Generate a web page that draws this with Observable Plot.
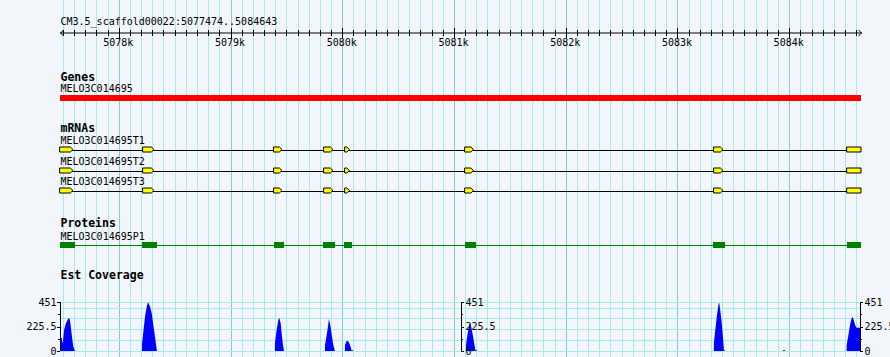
<!DOCTYPE html>
<html>
<head>
<meta charset="utf-8">
<script src="https://cdn.jsdelivr.net/npm/d3@7"></script>
<script src="https://cdn.jsdelivr.net/npm/@observablehq/plot@0.6"></script>
<style>
  html, body { margin: 0; padding: 0; background: #f2f5fa; }
  #chart { width: 890px; height: 357px; overflow: hidden; }
  #chart svg { display: block; }
</style>
</head>
<body>
<div id="chart"></div>
<script>
// ---------------- DATA ----------------
const refName = "CM3.5_scaffold00022";
const viewStart = 5077474;
const viewEnd = 5084643;

const majorTicks = [5078000, 5079000, 5080000, 5081000, 5082000, 5083000, 5084000];
const majorTickLabels = ["5078k", "5079k", "5080k", "5081k", "5082k", "5083k", "5084k"];

const trackTitles = ["Genes", "mRNAs", "Proteins", "Est Coverage"];

const geneNames = ["MELO3C014695"];
const geneStarts = [5077474];
const geneEnds = [5084643];

const transcriptNames = ["MELO3C014695T1", "MELO3C014695T2", "MELO3C014695T3"];
const exonStarts = [5077474, 5078217, 5079389, 5079837, 5080025, 5081099, 5083327, 5084518];
const exonEnds   = [5077590, 5078315, 5079461, 5079917, 5080065, 5081175, 5083408, 5084643];
const exonPointed = [true, true, true, true, true, true, true, false];

const proteinNames = ["MELO3C014695P1"];
const cdsStarts = [5077474, 5078208, 5079389, 5079828, 5080016, 5081099, 5083318, 5084518];
const cdsEnds   = [5077608, 5078342, 5079479, 5079935, 5080088, 5081197, 5083426, 5084643];

const coveragePos = [
  5077474, 5077490, 5077494, 5077502, 5077510, 5077528, 5077546, 5077555, 5077564, 5077572, 5077581, 5077593, 5077608,
  5078207, 5078208, 5078220, 5078235, 5078250, 5078262, 5078280, 5078295, 5078309, 5078324, 5078336, 5078342,
  5079397, 5079398, 5079413, 5079428, 5079436, 5079449, 5079461, 5079472, 5079479,
  5079845, 5079846, 5079861, 5079872, 5079881, 5079893, 5079906, 5079920, 5079935,
  5080024, 5080025, 5080040, 5080055, 5080070, 5080085,
  5081107, 5081108, 5081123, 5081135, 5081144, 5081155, 5081170, 5081184, 5081193,
  5083326, 5083327, 5083342, 5083356, 5083369, 5083374, 5083383, 5083396, 5083408, 5083417,
  5084514, 5084515, 5084529, 5084545, 5084560, 5084566, 5084578, 5084590, 5084602, 5084634
];
const coverageVal = [
  122, 122, 70, 101, 193, 258, 294, 306, 279, 212, 132, 40, 0,
  0, 60, 178, 316, 408, 451, 408, 347, 239, 132, 40, 0,
  0, 74, 193, 285, 306, 255, 132, 40, 0,
  0, 55, 147, 224, 294, 239, 147, 55, 0,
  0, 55, 95, 87, 55, 0,
  0, 55, 166, 230, 255, 221, 138, 55, 0,
  0, 74, 224, 347, 437, 445, 377, 267, 120, 0,
  0, 55, 138, 239, 304, 315, 285, 239, 214, 214
];
const coverageMax = 451;
const coverageTickVals = [0, 225.5, 451];
const coverageMinorTickVals = [112.75, 338.25];
const coverageGridVals = [0, 100, 200, 300, 400, 451];
const coverageAxisPos = [5077474, 5081063, 5084634];
const redMarkPos = [5080088, 5081195, 5083419, 5083957];

// ---------------- STYLE / LAYOUT ----------------
const BG = "#f2f5fa";
const GRID_MINOR = "#a6e9ef";
const GRID_MAJOR = "#8ac6ea";
const MONO = "DejaVu Sans Mono, monospace";
const L = {
  titleY: 24, axisY: 32.5, tickLabelY: 45,
  genesTitleY: 80.5, geneLabelY: 91.5, geneBarTop: 95, geneBarBottom: 101,
  mrnaTitleY: 131.5, txLabelY: [143.3, 164, 184.8], txRowY: [149.5, 170.5, 190.5], exonHalf: 2.5,
  protTitleY: 226.7, protLabelY: 239, protRowY: 244.5, cdsTop: 242, cdsBottom: 247.5,
  covTitleY: 278.3
};
const tipBp = 24;
const xRange = [60, 861];
const minorTicks = d3.range(5077500, viewEnd, 100);
const crisp = {shapeRendering: "crispEdges"};

// ---------------- DERIVED TABLES ----------------
const exonShapes = [];
transcriptNames.forEach((t, ti) => {
  exonStarts.forEach((s, i) => {
    const e = exonEnds[i];
    const yc = L.txRowY[ti], top = yc - L.exonHalf, bot = yc + L.exonHalf;
    const id = t + "_" + i;
    exonShapes.push({id, x: s, top, bot});
    if (exonPointed[i]) {
      exonShapes.push({id, x: e - tipBp, top, bot});
      exonShapes.push({id, x: e, top: yc, bot: yc});
    } else {
      exonShapes.push({id, x: e, top, bot});
    }
  });
});
const transcripts = transcriptNames.map((name, i) => ({
  name, start: exonStarts[0], end: exonEnds[exonEnds.length - 1], y: L.txRowY[i], ly: L.txLabelY[i]
}));
const cds = cdsStarts.map((s, i) => ({start: s, end: cdsEnds[i]}));
const coverage = coveragePos.map((p, i) => ({pos: p, val: coverageVal[i]}));

const gridMarks = () => [
  Plot.ruleX(minorTicks.filter(d => d % 1000 !== 0), {x: d => d, stroke: GRID_MINOR, strokeWidth: 1, ...crisp}),
  Plot.ruleX(majorTicks, {x: d => d, stroke: GRID_MAJOR, strokeWidth: 1, ...crisp})
];

const textOpts = {fontFamily: MONO, fontSize: 10, fill: "black", lineAnchor: "bottom"};
const titleOpts = {fontFamily: MONO, fontSize: 11.5, fontWeight: "bold", fill: "black", lineAnchor: "bottom", textAnchor: "start"};

// ---------------- MAIN PLOT ----------------
const mid = (viewStart + viewEnd) / 2;
const main = Plot.plot({
  width: 890, height: 290, margin: 0,
  style: {background: BG, fontFamily: MONO, fontSize: "10px"},
  x: {domain: [viewStart, viewEnd], range: xRange},
  y: {type: "identity"},
  marks: [
    ...gridMarks(),
    // ruler
    Plot.text([refName + ":" + viewStart + ".." + viewEnd], {x: viewStart, y: L.titleY, text: d => d, textAnchor: "start", ...textOpts}),
    Plot.arrow([{a: mid, b: viewStart}, {a: mid, b: viewEnd}], {x1: "a", x2: "b", y1: L.axisY, y2: L.axisY, stroke: "black", strokeWidth: 1, headAngle: 90, headLength: 6}),
    Plot.ruleX(minorTicks.filter(d => d % 1000 !== 0), {x: d => d, y1: 29.5, y2: 35.5, stroke: "black", strokeWidth: 1, ...crisp}),
    Plot.ruleX(majorTicks, {x: d => d, y1: 28, y2: 38, stroke: "black", strokeWidth: 1, ...crisp}),
    Plot.text(majorTicks, {x: d => d, y: L.tickLabelY, text: (d, i) => majorTickLabels[i], textAnchor: "middle", dx: -1, ...textOpts}),
    // Genes
    Plot.text([trackTitles[0]], {x: viewStart, y: L.genesTitleY, text: d => d, ...titleOpts}),
    Plot.text(geneNames, {x: (d, i) => geneStarts[i], y: L.geneLabelY, text: d => d, textAnchor: "start", ...textOpts}),
    Plot.rect(geneNames, {x1: (d, i) => geneStarts[i], x2: (d, i) => geneEnds[i], y1: L.geneBarTop, y2: L.geneBarBottom, fill: "#ff0000", ...crisp}),
    // mRNAs
    Plot.text([trackTitles[1]], {x: viewStart, y: L.mrnaTitleY, text: d => d, ...titleOpts}),
    Plot.text(transcripts, {x: "start", y: "ly", text: "name", textAnchor: "start", ...textOpts}),
    Plot.ruleY(transcripts, {y: "y", x1: "start", x2: "end", stroke: "black", strokeWidth: 1, ...crisp}),
    Plot.area(exonShapes, {x1: "x", y1: "top", y2: "bot", z: "id", fill: "#ffff00", stroke: "black", strokeWidth: 1, curve: "linear", strokeLinejoin: "miter"}),
    // Proteins
    Plot.text([trackTitles[2]], {x: viewStart, y: L.protTitleY, text: d => d, ...titleOpts}),
    Plot.text(proteinNames, {x: cdsStarts[0], y: L.protLabelY, text: d => d, textAnchor: "start", ...textOpts}),
    Plot.ruleY(proteinNames, {y: L.protRowY, x1: cdsStarts[0], x2: cdsEnds[cdsEnds.length - 1], stroke: "#008000", strokeWidth: 1, ...crisp}),
    Plot.rect(cds, {x1: "start", x2: "end", y1: L.cdsTop, y2: L.cdsBottom, fill: "#008000", ...crisp}),
    // Est coverage title
    Plot.text([trackTitles[3]], {x: viewStart, y: L.covTitleY, text: d => d, ...titleOpts})
  ]
});

// ---------------- COVERAGE PLOT ----------------
const axisTicks = [];
coverageAxisPos.forEach((p, ai) => {
  coverageTickVals.forEach(v => axisTicks.push({p, v, side: ai === 0 ? -1 : 1, len: 3}));
  coverageMinorTickVals.forEach(v => axisTicks.push({p, v, side: ai === 0 ? -1 : 1, len: 2}));
});
const leftTicks = axisTicks.filter(d => d.side < 0);
const rightTicks = axisTicks.filter(d => d.side > 0);
const labelRows = [];
coverageAxisPos.forEach((p, ai) => coverageTickVals.forEach(v => labelRows.push({p, v, side: ai === 0 ? -1 : 1})));

const cov = Plot.plot({
  width: 890, height: 67, margin: 0,
  style: {background: BG, fontFamily: MONO, fontSize: "10px"},
  x: {domain: [viewStart, viewEnd], range: xRange},
  y: {domain: [0, coverageMax], range: [61, 12]},
  marks: [
    ...gridMarks(),
    Plot.ruleY(coverageGridVals, {y: d => d, x1: viewStart, x2: coverageAxisPos[2], stroke: GRID_MINOR, strokeWidth: 1, ...crisp}),
    Plot.areaY(coverage, {x: "pos", y: "val", fill: "#0000ff", curve: "linear"}),
    Plot.rectY(redMarkPos, {x1: d => d - 8, x2: d => d + 8, y1: 0, y2: 10, fill: "#ff0000", ...crisp}),
    Plot.ruleX(coverageAxisPos, {x: d => d, y1: 0, y2: coverageMax, stroke: "black", strokeWidth: 1, ...crisp}),
    Plot.ruleY(leftTicks.filter(d => d.len === 3), {y: "v", x1: "p", x2: "p", insetLeft: -3, stroke: "black", ...crisp}),
    Plot.ruleY(leftTicks.filter(d => d.len === 2), {y: "v", x1: "p", x2: "p", insetLeft: -2, stroke: "black", ...crisp}),
    Plot.ruleY(rightTicks.filter(d => d.len === 3), {y: "v", x1: "p", x2: "p", insetRight: -3, stroke: "black", ...crisp}),
    Plot.ruleY(rightTicks.filter(d => d.len === 2), {y: "v", x1: "p", x2: "p", insetRight: -2, stroke: "black", ...crisp}),
    Plot.text(labelRows.filter(d => d.side < 0), {x: "p", y: "v", text: d => String(d.v), textAnchor: "end", dx: -4, fontFamily: MONO, fontSize: 10, fill: "black"}),
    Plot.text(labelRows.filter(d => d.side > 0), {x: "p", y: "v", text: d => String(d.v), textAnchor: "start", dx: 4, fontFamily: MONO, fontSize: 10, fill: "black"})
  ]
});

document.getElementById("chart").append(main, cov);
</script>
</body>
</html>
